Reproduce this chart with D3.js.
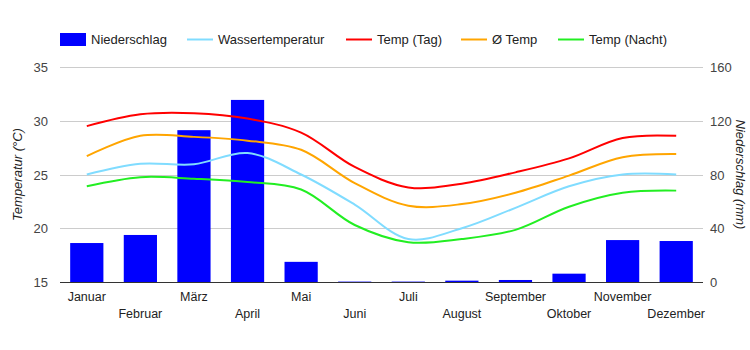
<!DOCTYPE html>
<html>
<head>
<meta charset="utf-8">
<script src="https://cdn.jsdelivr.net/npm/d3@7"></script>
<style>
  body { margin: 0; background: #fff; }
  svg { font-family: Arial, "Liberation Sans", sans-serif; }
</style>
</head>
<body>
<svg id="chart" width="750" height="350"></svg>
<script>
// data
const months = ["Januar","Februar","März","April","Mai","Juni","Juli","August","September","Oktober","November","Dezember"]
const rain = [29, 35, 113, 135.5, 15, 0.3, 0.3, 1, 1.5, 6.2, 31.2, 30.5]
const water = [25.0, 26.0, 25.95, 27.0, 25.0, 22.2, 19.0, 20.0, 21.9, 23.9, 25.0, 25.0]
const tempDay = [29.5, 30.6, 30.7, 30.2, 28.9, 25.7, 23.8, 24.15, 25.2, 26.5, 28.4, 28.6]
const tempAvg = [26.7, 28.6, 28.5, 28.15, 27.3, 24.2, 22.1, 22.25, 23.3, 24.9, 26.6, 26.9]
const tempNight = [23.9, 24.75, 24.6, 24.3, 23.6, 20.3, 18.7, 19.0, 19.85, 22.0, 23.3, 23.5]
const tempTicks = [15, 20, 25, 30, 35]
const rainTicks = [0, 40, 80, 120, 160]

const lines = [
  { name: "Wassertemperatur", values: water, color: "#80dcff" },
  { name: "Temp (Tag)", values: tempDay, color: "#ff0000" },
  { name: "Ø Temp", values: tempAvg, color: "#ffa500" },
  { name: "Temp (Nacht)", values: tempNight, color: "#22ee22" }
]

// layout
const plotL = 60, plotR = 703, plotT = 67, plotB = 282
const svg = d3.select("#chart")

const x = d3.scaleBand().domain(months).range([plotL, plotR]).paddingInner(0.38).paddingOuter(0.19)
const yT = d3.scaleLinear().domain([15, 35]).range([plotB, plotT])
const yR = d3.scaleLinear().domain([0, 160]).range([plotB, plotT])

// grid
svg.append("g").selectAll("line").data(tempTicks.slice(1)).join("line")
  .attr("x1", plotL).attr("x2", plotR)
  .attr("y1", d => Math.round(yT(d)) + 0.5).attr("y2", d => Math.round(yT(d)) + 0.5)
  .attr("stroke", "#cccccc").attr("stroke-width", 1)

// left axis labels
svg.append("g").selectAll("text").data(tempTicks).join("text")
  .attr("x", 48).attr("y", d => yT(d) + 5)
  .attr("text-anchor", "end").attr("font-size", 13).attr("fill", "#444")
  .text(d => d)

// right axis labels
svg.append("g").selectAll("text").data(rainTicks).join("text")
  .attr("x", 710).attr("y", d => yR(d) + 5)
  .attr("font-size", 13).attr("fill", "#444")
  .text(d => d)

// bars
svg.append("g").selectAll("rect").data(rain).join("rect")
  .attr("x", (d, i) => x(months[i]))
  .attr("width", x.bandwidth())
  .attr("y", d => yR(d))
  .attr("height", d => plotB - yR(d))
  .attr("fill", "#0000ff")

// baseline
svg.append("line")
  .attr("x1", plotL).attr("x2", plotR).attr("y1", plotB + 0.5).attr("y2", plotB + 0.5)
  .attr("stroke", "#333").attr("stroke-width", 1)

// lines
const cx = m => x(m) + x.bandwidth() / 2
const line = d3.line().x((d, i) => cx(months[i])).y(d => yT(d)).curve(d3.curveCatmullRom.alpha(0.5))
svg.append("g").selectAll("path").data(lines).join("path")
  .attr("d", d => line(d.values))
  .attr("fill", "none").attr("stroke", d => d.color).attr("stroke-width", 2)

// x labels
svg.append("g").selectAll("text").data(months).join("text")
  .attr("x", d => cx(d))
  .attr("y", (d, i) => i % 2 ? 318 : 301)
  .attr("text-anchor", "middle").attr("font-size", 12.5).attr("fill", "#222")
  .text(d => d)

// axis titles
svg.append("text")
  .attr("transform", `translate(22,${(plotT + plotB) / 2}) rotate(-90)`)
  .attr("text-anchor", "middle").attr("font-size", 13).attr("font-style", "italic").attr("fill", "#222")
  .text("Temperatur (°C)")
svg.append("text")
  .attr("transform", `translate(736,${(plotT + plotB) / 2}) rotate(90)`)
  .attr("text-anchor", "middle").attr("font-size", 13).attr("font-style", "italic").attr("fill", "#222")
  .text("Niederschlag (mm)")

// legend
const legend = [
  { name: "Niederschlag", color: "#0000ff", x: 60, bar: true },
  { name: lines[0].name, color: lines[0].color, x: 187 },
  { name: lines[1].name, color: lines[1].color, x: 346 },
  { name: lines[2].name, color: lines[2].color, x: 461 },
  { name: lines[3].name, color: lines[3].color, x: 558 }
]
const lg = svg.append("g").selectAll("g").data(legend).join("g")
  .attr("transform", d => `translate(${d.x},0)`)
lg.filter(d => d.bar).append("rect")
  .attr("x", 0).attr("y", 33).attr("width", 26).attr("height", 13).attr("fill", d => d.color)
lg.filter(d => !d.bar).append("line")
  .attr("x1", 0).attr("x2", 26).attr("y1", 39.5).attr("y2", 39.5)
  .attr("stroke", d => d.color).attr("stroke-width", 2)
lg.append("text")
  .attr("x", 31).attr("y", 44).attr("font-size", 13).attr("fill", "#222")
  .text(d => d.name)
</script>
</body>
</html>
